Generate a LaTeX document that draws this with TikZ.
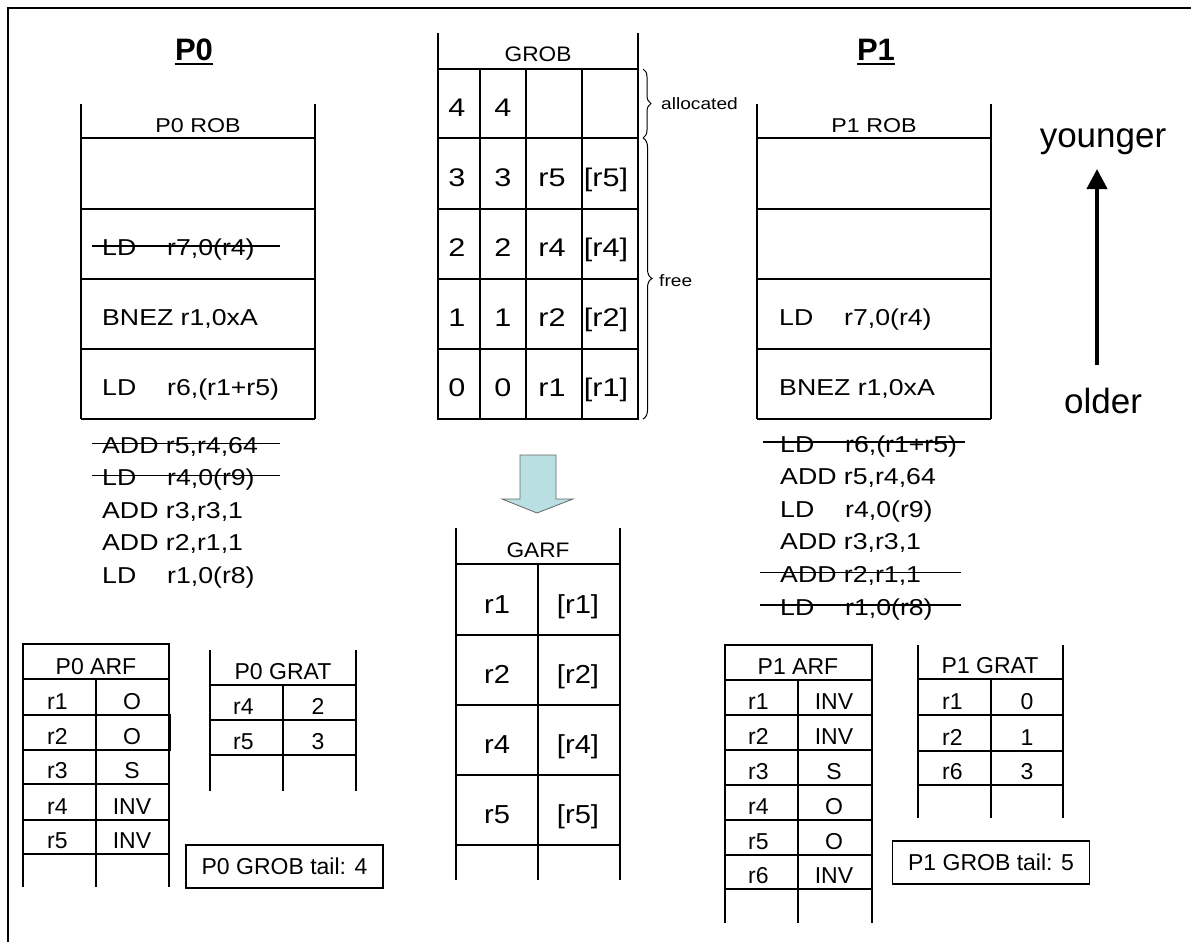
\documentclass[tikz,border=0pt]{standalone}
\usepackage{fontspec}
\setmainfont{Liberation Sans}
\newfontfamily\wideF[FakeStretch=1.16]{Liberation Sans}
\newfontfamily\midF[FakeStretch=1.08]{Liberation Sans}
\newfontfamily\grobF[FakeStretch=1.2]{Liberation Sans}
\newfontfamily\garfF[FakeStretch=1.12]{Liberation Sans}
\usetikzlibrary{arrows.meta,decorations.pathreplacing}
\newcommand\insfont{\wideF\fontsize{23}{23}\selectfont}
\newcommand\robfont{\wideF\fontsize{20}{20}\selectfont}
\newcommand\grobfont{\grobF\fontsize{25.5}{25.5}\selectfont}
\newcommand\garffont{\garfF\fontsize{26}{26}\selectfont}
\newcommand\grobhd{\midF\fontsize{21}{21}\selectfont}
\newcommand\tabfont{\fontsize{23}{23}\selectfont}
\newcommand\ttlfont{\bfseries\fontsize{31}{31}\selectfont}
\newcommand\bigfont{\fontsize{35}{35}\selectfont}
\newcommand\smallfont{\wideF\fontsize{16.5}{16.5}\selectfont}
\newcommand\opLD{\makebox[65pt][l]{LD}}
\definecolor{arrowfill}{RGB}{185,223,227}
\tikzset{
  lnN/.style={line width=1.3pt},
  lnK/.style={line width=2.2pt},
  lnG/.style={line width=1.9pt},
  lnS/.style={line width=1.3pt},
  ins/.style={anchor=base west, inner sep=0pt, font=\insfont},
  robhd/.style={anchor=base, inner sep=0pt, font=\robfont},
  gc/.style={anchor=base, inner sep=0pt, font=\grobfont},
  fc/.style={anchor=base, inner sep=0pt, font=\garffont},
  ghd/.style={anchor=base, inner sep=0pt, font=\grobhd},
  tl/.style={anchor=base west, inner sep=0pt, font=\tabfont},
  tc/.style={anchor=base, inner sep=0pt, font=\tabfont},
  ttl/.style={anchor=base, inner sep=0pt, font=\ttlfont},
  tailbox/.style={draw, lnN, minimum width=197pt, minimum height=43pt, inner sep=0pt, font=\tabfont},
}
\begin{document}
\begin{tikzpicture}[x=1pt,y=-1pt]
\useasboundingbox (0,0) rectangle (1191,942);
% frame
\draw[line width=2.5pt] (8,942) -- (8,8) -- (1191,8);

% titles
\node[ttl] (t0) at (194,60) {P0};
\draw[line width=2.5pt] ([yshift=-4pt]t0.base west) -- ([yshift=-4pt]t0.base east);
\node[ttl] (t1) at (876,60) {P1};
\draw[line width=2.5pt] ([yshift=-4pt]t1.base west) -- ([yshift=-4pt]t1.base east);

% ---------- P0 ROB ----------
\draw[lnN] (81,104) -- (81,419) (315,104) -- (315,419);
\draw[lnN] (81,279) -- (315,279) (81,349) -- (315,349) (81,419) -- (315,419);
\draw[lnK] (81,138) rectangle (315,209);
\node[robhd] (p0rob) at (198,132) {P0 ROB};
\node[ins] (p0i1) at (102,255) {\opLD r7,0(r4)};
\draw[lnS] (92,246) -- (280,246);
\node[ins] (p0i2) at (102,325) {BNEZ r1,0xA};
\node[ins] (p0i3) at (102,395) {\opLD r6,(r1+r5)};
% P0 list
\node[ins] (p0l1) at (102,453) {ADD r5,r4,64};
\node[ins] (p0l2) at (102,485.6) {\opLD r4,0(r9)};
\node[ins] (p0l3) at (102,518.2) {ADD r3,r3,1};
\node[ins] (p0l4) at (102,550.8) {ADD r2,r1,1};
\node[ins] (p0l5) at (102,583.4) {\opLD r1,0(r8)};
\draw[lnS] (92,443.5) -- (280,443.5);
\draw[lnS] (92,475.5) -- (280,475.5);

% ---------- GROB ----------
\draw[lnG] (438,33) -- (438,419) -- (638,419) -- (638,33);
\foreach \yy in {69,138,209,279,349} \draw[lnG] (438,\yy) -- (638,\yy);
\foreach \xx in {480,526,582} \draw[lnG] (\xx,69) -- (\xx,419);
\node[ghd] (grobhd) at (538,62) {GROB};
\node[gc] (g40) at (457,116) {4};
\node[gc] (g41) at (503,116) {4};
\node[gc] (g30) at (457,186) {3};
\node[gc] (g31) at (503,186) {3};
\node[gc] (g32) at (552,186) {r5};
\node[gc] (g33) at (606,186) {[r5]};
\node[gc] (g20) at (457,256) {2};
\node[gc] (g21) at (503,256) {2};
\node[gc] (g22) at (552,256) {r4};
\node[gc] (g23) at (606,256) {[r4]};
\node[gc] (g10) at (457,326) {1};
\node[gc] (g11) at (503,326) {1};
\node[gc] (g12) at (552,326) {r2};
\node[gc] (g13) at (606,326) {[r2]};
\node[gc] (g00) at (457,396) {0};
\node[gc] (g01) at (503,396) {0};
\node[gc] (g02) at (552,396) {r1};
\node[gc] (g03) at (606,396) {[r1]};
% braces
\coordinate (bA1) at (643,69);
\coordinate (bA2) at (643,138);
\coordinate (bF2) at (643,419);
\draw[line width=1pt, decorate, decoration={brace, amplitude=8pt}] (bA1) -- (bA2);
\draw[line width=1pt, decorate, decoration={brace, amplitude=9pt}] (bA2) -- (bF2);
\node[anchor=base west, inner sep=0pt, font=\smallfont] (alloc) at (661,109) {allocated};
\node[anchor=base west, inner sep=0pt, font=\smallfont] (free) at (659,286) {free};

% block arrow
\draw[fill=arrowfill, draw=black!60, line width=0.8pt] (520,455) -- (556,455) -- (556,499) -- (573,499) -- (537,513) -- (502,499) -- (520,499) -- cycle;

% ---------- GARF ----------
\draw[lnN] (456,528) -- (456,880) (620,528) -- (620,880) (538,564) -- (538,880);
\foreach \yy in {564,635,705,775,845} \draw[lnN] (456,\yy) -- (620,\yy);
\node[ghd] (garfhd) at (538,557) {GARF};
\node[fc] (ga1) at (497,613) {r1};
\node[fc] (gb1) at (578,613) {[r1]};
\node[fc] (ga2) at (497,683) {r2};
\node[fc] (gb2) at (578,683) {[r2]};
\node[fc] (ga4) at (497,753) {r4};
\node[fc] (gb4) at (578,753) {[r4]};
\node[fc] (ga5) at (497,823) {r5};
\node[fc] (gb5) at (578,823) {[r5]};

% ---------- P1 ROB ----------
\draw[lnN] (757,104) -- (757,419) (991,104) -- (991,419);
\draw[lnN] (757,279) -- (991,279) (757,349) -- (991,349) (757,419) -- (991,419);
\draw[lnK] (757,138) rectangle (991,209);
\node[robhd] (p1rob) at (874,132) {P1 ROB};
\node[ins] (p1i1) at (779,325) {\opLD r7,0(r4)};
\node[ins] (p1i2) at (779,395) {BNEZ r1,0xA};
% P1 list
\node[ins] (p1l1) at (780,452) {\opLD r6,(r1+r5)};
\node[ins] (p1l2) at (780,484.6) {ADD r5,r4,64};
\node[ins] (p1l3) at (780,517.2) {\opLD r4,0(r9)};
\node[ins] (p1l4) at (780,549.8) {ADD r3,r3,1};
\node[ins] (p1l5) at (780,582.4) {ADD r2,r1,1};
\node[ins] (p1l6) at (780,615) {\opLD r1,0(r8)};
\draw[lnS] (763,442) -- (965,442);
\draw[lnS] (760,572.4) -- (961,572.4);
\draw[lnS] (760,605) -- (961,605);

% younger / older
\node[anchor=base, inner sep=0pt, font=\bigfont] (yng) at (1103,147) {younger};
\node[anchor=base, inner sep=0pt, font=\bigfont] (old) at (1103,413) {older};
\coordinate (aS) at (1097,365);
\coordinate (aE) at (1097,169);
\draw[line width=4pt, -{Triangle[width=20pt,length=20pt]}] (aS) -- (aE);

% ---------- P0 ARF ----------
\draw[lnN] (23,887) -- (23,644) -- (169,644) -- (169,887);
\draw[lnN] (96,679) -- (96,887);
\foreach \yy in {679,715,750,784,820,854} \draw[lnN] (23,\yy) -- (169,\yy);
\draw[lnK] (23,715) rectangle (170,750);
\node[tc] (p0arf) at (96,674) {P0 ARF};
\node[tl] (a0r1) at (47,709) {r1};  \node[tc] (a0v1) at (132,709) {O};
\node[tl] (a0r2) at (47,744) {r2};  \node[tc] (a0v2) at (132,744) {O};
\node[tl] (a0r3) at (47,778) {r3};  \node[tc] (a0v3) at (132,778) {S};
\node[tl] (a0r4) at (47,814) {r4};  \node[tc] (a0v4) at (132,814) {INV};
\node[tl] (a0r5) at (47,848) {r5};  \node[tc] (a0v5) at (132,848) {INV};

% ---------- P0 GRAT ----------
\draw[lnN] (210,650) -- (210,791) (356,650) -- (356,791) (283,685) -- (283,791);
\foreach \yy in {685,720,755} \draw[lnN] (210,\yy) -- (356,\yy);
\node[tc] (p0grat) at (283,679) {P0 GRAT};
\node[tl] (r0r4) at (233,714) {r4};  \node[tc] (r0v4) at (318,714) {2};
\node[tl] (r0r5) at (233,749) {r5};  \node[tc] (r0v5) at (318,749) {3};
\node[tailbox] (tail0) at (284.5,866.5) {P0 GROB tail: 4};

% ---------- P1 ARF ----------
\draw[lnN] (725,923) -- (725,645) -- (872,645) -- (872,923);
\draw[lnN] (798,680) -- (798,923);
\foreach \yy in {680,715,750,785,820,855,889} \draw[lnN] (725,\yy) -- (872,\yy);
\draw[lnK] (725,715) rectangle (872,750);
\node[tc] (p1arf) at (798,674) {P1 ARF};
\node[tl] (a1r1) at (748,709) {r1};  \node[tc] (a1v1) at (834,709) {INV};
\node[tl] (a1r2) at (748,744) {r2};  \node[tc] (a1v2) at (834,744) {INV};
\node[tl] (a1r3) at (748,779) {r3};  \node[tc] (a1v3) at (834,779) {S};
\node[tl] (a1r4) at (748,814) {r4};  \node[tc] (a1v4) at (834,814) {O};
\node[tl] (a1r5) at (748,849) {r5};  \node[tc] (a1v5) at (834,849) {O};
\node[tl] (a1r6) at (748,883) {r6};  \node[tc] (a1v6) at (834,883) {INV};

% ---------- P1 GRAT ----------
\draw[lnN] (918,645) -- (918,818) (1063,645) -- (1063,818) (991,679) -- (991,818);
\foreach \yy in {679,715,751,785} \draw[lnN] (918,\yy) -- (1063,\yy);
\node[tc] (p1grat) at (990,673) {P1 GRAT};
\node[tl] (r1r1) at (942,709) {r1};  \node[tc] (r1v1) at (1027,709) {0};
\node[tl] (r1r2) at (942,745) {r2};  \node[tc] (r1v2) at (1027,745) {1};
\node[tl] (r1r6) at (942,779) {r6};  \node[tc] (r1v6) at (1027,779) {3};
\node[tailbox] (tail1) at (991,862.5) {P1 GROB tail: 5};
\end{tikzpicture}
\end{document}
